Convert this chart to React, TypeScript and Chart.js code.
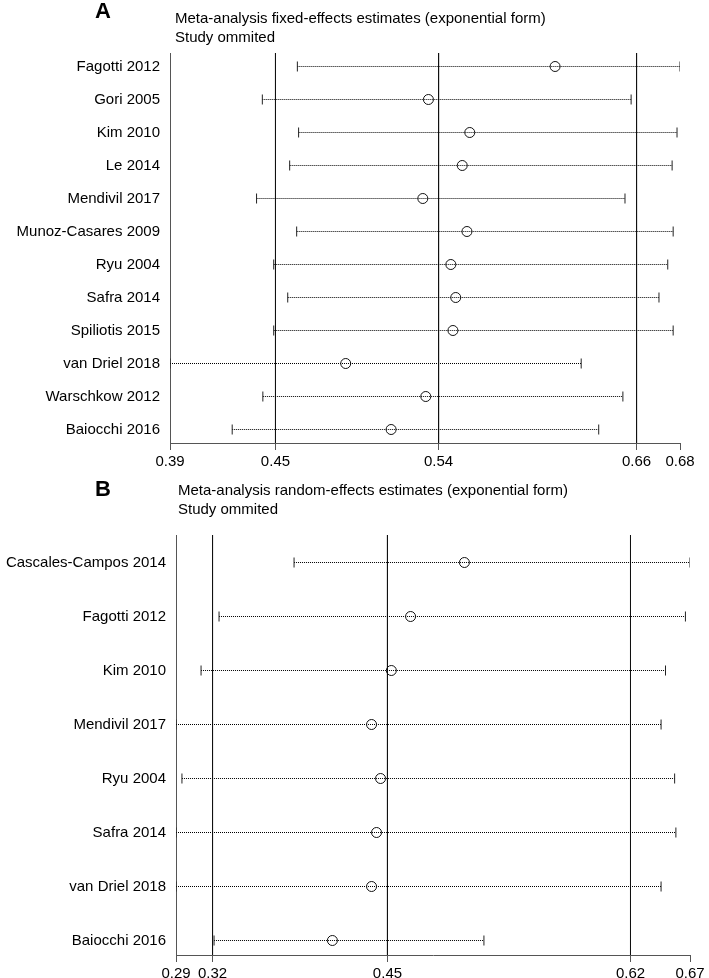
import React, { useEffect, useRef } from "react";
import { Chart, registerables } from "chart.js";
Chart.register(...registerables);

// ---------- Panel A: fixed effects ----------
const studiesA = [
  "Fagotti 2012", "Gori 2005", "Kim 2010", "Le 2014", "Mendivil 2017",
  "Munoz-Casares 2009", "Ryu 2004", "Safra 2014", "Spiliotis 2015",
  "van Driel 2018", "Warschkow 2012", "Baiocchi 2016",
];
const lowA = [0.4625, 0.4425, 0.4632, 0.4581, 0.4392, 0.4621, 0.449, 0.457, 0.449, 0.3898, 0.4428, 0.4253];
const estA = [0.6096, 0.5373, 0.5609, 0.5566, 0.5341, 0.5593, 0.5501, 0.5529, 0.5513, 0.4901, 0.5358, 0.516];
const highA = [0.6809, 0.653, 0.6792, 0.6764, 0.6495, 0.677, 0.6739, 0.6689, 0.677, 0.6245, 0.6483, 0.6345];
const ticksA = [0.3898, 0.45, 0.5431, 0.6561, 0.6809];
const tickLabelsA = ["0.39", "0.45", "0.54", "0.66", "0.68"];
const refA = [0.45, 0.5431, 0.6561];

// ---------- Panel B: random effects ----------
const studiesB = [
  "Cascales-Campos 2014", "Fagotti 2012", "Kim 2010", "Mendivil 2017",
  "Ryu 2004", "Safra 2014", "van Driel 2018", "Baiocchi 2016",
];
const lowB = [0.3794, 0.3252, 0.3122, 0.2941, 0.2984, 0.2941, 0.2941, 0.3216];
const estB = [0.5025, 0.4636, 0.4497, 0.4354, 0.4419, 0.439, 0.4354, 0.4071];
const highB = [0.6655, 0.6622, 0.6478, 0.6446, 0.6544, 0.6553, 0.6446, 0.5166];
const ticksB = [0.2941, 0.3205, 0.4469, 0.6225, 0.6655];
const tickLabelsB = ["0.29", "0.32", "0.45", "0.62", "0.67"];
const refB = [0.3205, 0.4469, 0.6225];

const FONT = "'Liberation Sans', Arial, Helvetica, sans-serif";

type Layout = { left: number; top: number; right: number; axisH: number; yMin: number; yMax: number };

function buildConfig(
  names: string[], low: number[], est: number[], high: number[],
  ticks: number[], tickLabels: string[], refs: number[], L: Layout
): any {
  const datasets: any[] = [];
  names.forEach((_, i) => {
    datasets.push({
      type: "line",
      data: [{ x: low[i], y: i }, { x: high[i], y: i }],
      borderColor: "#000",
      borderWidth: 1,
      borderDash: [1, 1],
      pointStyle: "line",
      rotation: 90,
      pointRadius: 5,
      pointBorderWidth: 1,
      pointBorderColor: "#222",
      order: 2,
    });
  });
  datasets.push({
    type: "scatter",
    data: est.map((v, i) => ({ x: v, y: i })),
    pointStyle: "circle",
    pointRadius: 5,
    pointBorderWidth: 1,
    pointBorderColor: "#111",
    pointBackgroundColor: "rgba(0,0,0,0)",
    order: 1,
  });
  refs.forEach((v) => {
    datasets.push({
      type: "line",
      data: [{ x: v, y: L.yMin }, { x: v, y: L.yMax }],
      borderColor: "#111",
      borderWidth: 1,
      pointRadius: 0,
      order: 3,
    });
  });
  return {
    type: "scatter",
    data: { datasets },
    options: {
      animation: false,
      responsive: false,
      devicePixelRatio: 1,
      layout: { padding: { top: L.top, right: L.right, left: 0, bottom: 0 } },
      plugins: { legend: { display: false }, tooltip: { enabled: false } },
      scales: {
        x: {
          type: "linear",
          min: ticks[0],
          max: ticks[ticks.length - 1],
          afterBuildTicks: (s: any) => { s.ticks = ticks.map((v) => ({ value: v })); },
          afterFit: (s: any) => { s.height = L.axisH; },
          ticks: {
            autoSkip: false,
            maxRotation: 0,
            padding: 3,
            color: "#000",
            font: { family: FONT, size: 15 },
            callback: (_v: any, i: number) => tickLabels[i],
          },
          grid: { display: true, drawOnChartArea: false, drawTicks: true, tickLength: 7, color: "#555", lineWidth: 1 },
          border: { display: true, color: "#555", width: 1 },
        },
        y: {
          type: "linear",
          reverse: true,
          min: L.yMin,
          max: L.yMax,
          afterBuildTicks: (s: any) => { s.ticks = names.map((_, i) => ({ value: i })); },
          afterFit: (s: any) => { s.width = L.left; },
          ticks: {
            autoSkip: false,
            padding: 10,
            color: "#000",
            font: { family: FONT, size: 15 },
            callback: (_v: any, i: number) => names[i],
          },
          grid: { display: false, drawTicks: false, tickLength: 0 },
          border: { display: true, color: "#555", width: 1 },
        },
      },
    },
  };
}

function Panel(props: { top: number; height: number; cfg: () => any }) {
  const ref = useRef<HTMLCanvasElement | null>(null);
  useEffect(() => {
    if (!ref.current) return;
    const chart = new Chart(ref.current, props.cfg());
    return () => chart.destroy();
  }, []);
  return (
    <canvas
      ref={ref}
      width={709}
      height={props.height}
      style={{ position: "absolute", left: 0, top: props.top, width: 709, height: props.height }}
    />
  );
}

const textStyle: React.CSSProperties = {
  position: "absolute",
  fontFamily: FONT,
  fontSize: 15,
  lineHeight: "20px",
  color: "#000",
  whiteSpace: "nowrap",
};
const letterStyle: React.CSSProperties = {
  position: "absolute",
  fontFamily: FONT,
  fontSize: 22,
  fontWeight: "bold",
  lineHeight: "22px",
  color: "#000",
};

export default function App() {
  return (
    <div style={{ position: "absolute", left: 0, top: 0, width: 709, height: 978, background: "#fff", overflow: "hidden" }}>
      <Panel
        top={0}
        height={478}
        cfg={() =>
          buildConfig(studiesA, lowA, estA, highA, ticksA, tickLabelsA, refA, {
            left: 170, top: 53, right: 29, axisH: 35, yMin: -0.40909, yMax: 11.40909,
          })
        }
      />
      <Panel
        top={478}
        height={500}
        cfg={() =>
          buildConfig(studiesB, lowB, estB, highB, ticksB, tickLabelsB, refB, {
            left: 176, top: 57, right: 19, axisH: 23, yMin: -0.5093, yMax: 7.2685,
          })
        }
      />
      <div style={{ ...letterStyle, left: 95, top: 0 }}>A</div>
      <div style={{ ...textStyle, left: 175, top: 8 }}>Meta-analysis fixed-effects estimates (exponential form)</div>
      <div style={{ ...textStyle, left: 175, top: 27 }}>Study ommited</div>
      <div style={{ ...letterStyle, left: 95, top: 478 }}>B</div>
      <div style={{ ...textStyle, left: 178, top: 480 }}>Meta-analysis random-effects estimates (exponential form)</div>
      <div style={{ ...textStyle, left: 178, top: 499 }}>Study ommited</div>
    </div>
  );
}
